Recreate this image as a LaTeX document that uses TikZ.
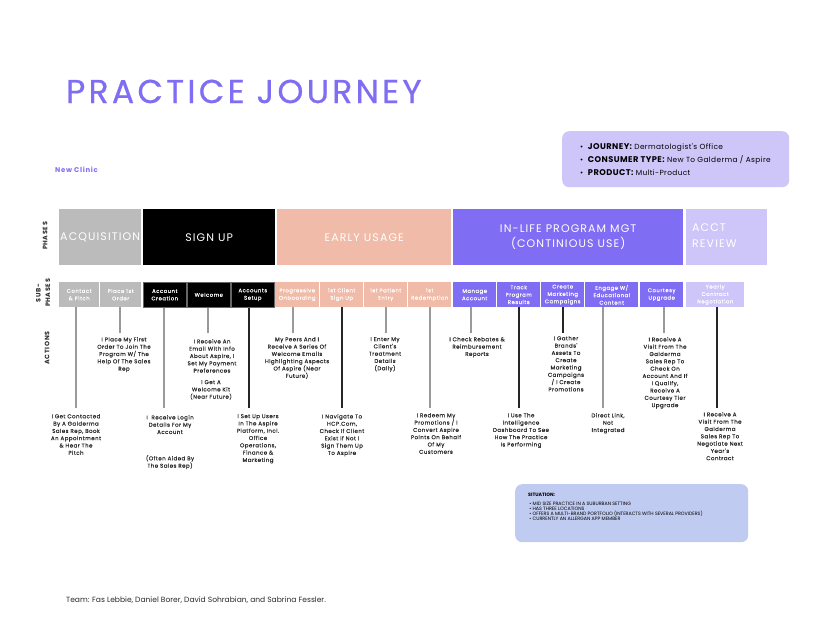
\documentclass[tikz,border=0pt]{standalone}
\usepackage{fontspec}
\setmainfont{Poppins}
\newfontfamily\pspc[LetterSpace=10]{Poppins}
\newfontfamily\pact[LetterSpace=8,FakeBold=0.35]{Poppins}
\newfontfamily\psub[LetterSpace=10,FakeBold=0.25]{Poppins}
\newfontfamily\pinfo[LetterSpace=5]{Poppins}
\newfontfamily\ptitle[LetterSpace=10,FakeBold=0.6]{Poppins}
\definecolor{jpurple}{HTML}{7F6DF3}
\definecolor{jlav}{HTML}{CEC6F9}
\definecolor{jsalmon}{HTML}{F0BBA8}
\definecolor{jgray}{HTML}{BBBBBB}
\definecolor{jsit}{HTML}{BFCBF0}
\definecolor{jline}{HTML}{9A9A9A}
\definecolor{jtext}{HTML}{2A2A2A}
\tikzset{
  phasebox/.style={anchor=north west, inner sep=0, minimum height=56, text=white, align=center,
     font=\pspc\fontsize{11}{15.5}\selectfont},
  subbox/.style={anchor=north west, inner sep=0, minimum height=25, text=white, align=center,
     font=\psub\fontsize{5.3}{7.4}\selectfont},
  act/.style={anchor=north, inner sep=0, align=center, text=jtext, font=\pact\fontsize{5.5}{7.3}\selectfont},
  side/.style={rotate=90, inner sep=0, align=center, text=jtext, font=\pspc\bfseries\fontsize{6.4}{9.5}\selectfont},
  gline/.style={draw=jline, line width=1.1},
  bline/.style={draw=black!85, line width=1.1},
}
\begin{document}
\begin{tikzpicture}[x=1pt,y=-1pt]
\useasboundingbox[fill=white] (0,0) rectangle (825,638);

% title
\node[anchor=base west, inner sep=0, text=jpurple, font=\ptitle\fontsize{33}{36}\selectfont] (title) at (66,103) {PRACTICE JOURNEY};
\node[anchor=base west, inner sep=0, text=jpurple, font=\pspc\bfseries\fontsize{6.9}{8}\selectfont] (clinic) at (55,172) {New Clinic};

% info box
\node[anchor=north west, fill=jlav, rounded corners=7, minimum width=227, minimum height=56, inner sep=0] (info) at (562,131) {};
\node[anchor=west, inner sep=0, align=left, text=black, font=\pinfo\fontsize{7.4}{13}\selectfont] (infotext) at (580,160)
  {\textbullet\ \ {\bfseries\fontsize{8.3}{13}\selectfont JOURNEY:} Dermatologist's Office\\
   \textbullet\ \ {\bfseries\fontsize{8.3}{13}\selectfont CONSUMER TYPE:} New To Galderma / Aspire\\
   \textbullet\ \ {\bfseries\fontsize{8.3}{13}\selectfont PRODUCT:} Multi-Product};

% side labels
\node[side] (lphases) at (45,236) {PHASES};
\node[side] (lsub) at (43,293) {SUB-\\PHASES};
\node[side] (lact) at (47,348) {ACTIONS};

% phases
\node[phasebox, fill=jgray, minimum width=82] (pAcq) at (59,209) {ACQUISITION};
\node[phasebox, fill=black, minimum width=132] (pSign) at (143,209) {SIGN UP};
\node[phasebox, fill=jsalmon, minimum width=174] (pEarly) at (277,209) {EARLY USAGE};
\node[phasebox, fill=jpurple, minimum width=230] (pLife) at (453,209) {IN-LIFE PROGRAM MGT\\(CONTINIOUS USE)};
\node[anchor=north west, inner sep=0, fill=jlav, minimum width=81, minimum height=56] (pAcct) at (686,209) {};
\node[anchor=north west, inner sep=0, align=left, text=white, font=\pspc\fontsize{11}{16}\selectfont] (pAcctT) at (692,224) {ACCT\\REVIEW};

% sub-phases
\node[subbox, fill=jgray, minimum width=40] (sContact) at (59,282) {Contact\\\& Pitch};
\node[subbox, fill=jgray, minimum width=41] (sPlace) at (100,282) {Place 1st\\Order};
\node[subbox, fill=black, draw=black!60, line width=0.6, minimum width=43] (sAccount) at (143,282) {Account\\Creation};
\node[subbox, fill=black, draw=black!60, line width=0.6, minimum width=43] (sWelcome) at (187,282) {Welcome};
\node[subbox, fill=black, draw=black!60, line width=0.6, minimum width=43] (sSetup) at (231,282) {Accounts\\Setup};
\node[subbox, fill=jsalmon, minimum width=44] (sProg) at (275,282) {Progressive\\Onboarding};
\node[subbox, fill=jsalmon, minimum width=43] (sClient) at (320,282) {1st Client\\Sign Up};
\node[subbox, fill=jsalmon, minimum width=43] (sPatient) at (364,282) {1st Patient\\Entry};
\node[subbox, fill=jsalmon, minimum width=43] (sRedeem) at (408,282) {1st\\Redemption};
\node[subbox, fill=jpurple, minimum width=43] (sManage) at (453,282) {Manage\\Account};
\node[subbox, fill=jpurple, minimum width=43] (sTrack) at (497,282) {Track\\Program\\Results};
\node[subbox, fill=jpurple, minimum width=43] (sCreate) at (541,282) {Create\\Marketing\\Campaigns};
\node[subbox, fill=jpurple, minimum width=53] (sEngage) at (585,282) {Engage W/\\Educational\\Content};
\node[subbox, fill=jpurple, minimum width=43] (sCourtesy) at (640,282) {Courtesy\\Upgrade};
\node[subbox, fill=jlav, minimum width=58] (sYearly) at (686,282) {Yearly\\Contract\\Negotiation};

% action texts
\node[act] (aContact) at (76,414) {I Get Contacted\\By A Galderma\\Sales Rep, Book\\An Appointment\\\& Hear The\\Pitch};
\node[act] (aPlace) at (124,337) {I Place My First\\Order To Join The\\Program W/ The\\Help Of The Sales\\Rep};
\node[act] (aAccount) at (170,415) {I\ \ Receive Login\\Details For My\\Account};
\node[act] (aAccount2) at (170,455) {(Often Aided By\\The Sales Rep)};
\node[act] (aWelcome) at (212,339) {I Receive An\\Email With Info\\About Aspire, I\\Set My Payment\\Preferences};
\node[act] (aWelcome2) at (211,380) {I Get A\\Welcome Kit\\(Near Future)};
\node[act] (aSetup) at (258,414) {I Set Up Users\\In The Aspire\\Platform, Incl.\\Office\\Operations,\\Finance \&\\Marketing};
\node[act] (aProg) at (297,337) {My Peers And I\\Receive A Series Of\\Welcome Emails\\Highlighting Aspects\\Of Aspire (Near\\Future)};
\node[act] (aClient) at (342,414) {I Navigate To\\HCP.Com,\\Check If Client\\Exist If Not I\\Sign Them Up\\To Aspire};
\node[act] (aPatient) at (385,337) {I Enter My\\Client's\\Treatment\\Details\\(Daily)};
\node[act] (aRedeem) at (436,413) {I Redeem My\\Promotions / I\\Convert Aspire\\Points On Behalf\\Of My\\Customers};
\node[act] (aManage) at (477,337) {I Check Rebates \&\\Reimbursement\\Reports};
\node[act] (aTrack) at (521,413) {I Use The\\Intelligence\\Dashboard To See\\How The Practice\\Is Performing};
\node[act] (aCreate) at (566,336) {I Gather\\Brands'\\Assets To\\Create\\Marketing\\Campaigns\\/ I Create\\Promotions};
\node[act] (aEngage) at (608,413) {Direct Link,\\Not\\Integrated};
\node[act] (aCourtesy) at (665,337) {I Receive A\\Visit From The\\Galderma\\Sales Rep To\\Check On\\Account And If\\I Qualify,\\Receive A\\Courtesy Tier\\Upgrade};
\node[act] (aYearly) at (720,412) {I Receive A\\Visit From The\\Galderma\\Sales Rep To\\Negotiate Next\\Year's\\Contract};

% connector ends
\coordinate (eContact) at (76,408);
\coordinate (ePlace) at (120,333);
\coordinate (eAccount) at (164,408);
\coordinate (eWelcome) at (208,333);
\coordinate (eSetup) at (249,408);
\coordinate (eProg) at (293,333);
\coordinate (eClient) at (342,408);
\coordinate (ePatient) at (386,333);
\coordinate (eRedeem) at (430,408);
\coordinate (eManage) at (471,333);
\coordinate (eTrack) at (519,408);
\coordinate (eCreate) at (563,333);
\coordinate (eEngage) at (603,408);
\coordinate (eCourtesy) at (664,333);
\coordinate (eYearly) at (717,408);

\draw[gline] (sContact.south -| eContact) -- (eContact);
\draw[gline] (sPlace.south -| ePlace) -- (ePlace);
\draw[gline] (sAccount.south -| eAccount) -- (eAccount);
\draw[gline] (sWelcome.south -| eWelcome) -- (eWelcome);
\draw[bline] (sSetup.south -| eSetup) -- (eSetup);
\draw[gline] (sProg.south -| eProg) -- (eProg);
\draw[bline] (sClient.south -| eClient) -- (eClient);
\draw[gline] (sPatient.south -| ePatient) -- (ePatient);
\draw[gline] (sRedeem.south -| eRedeem) -- (eRedeem);
\draw[gline] (sManage.south -| eManage) -- (eManage);
\draw[bline] (sTrack.south -| eTrack) -- (eTrack);
\draw[bline] (sCreate.south -| eCreate) -- (eCreate);
\draw[gline] (sEngage.south -| eEngage) -- (eEngage);
\draw[gline] (sCourtesy.south -| eCourtesy) -- (eCourtesy);
\draw[bline] (sYearly.south -| eYearly) -- (eYearly);

% situation box
\node[anchor=north west, fill=jsit, rounded corners=7, minimum width=233, minimum height=58, inner sep=0] (sit) at (515,484) {};
\node[anchor=north west, inner sep=0, align=left, text=black, font=\fontsize{4.75}{5.1}\selectfont] (sittext) at (528,493)
  {{\bfseries SITUATION:}\\[4pt]
   \ \textbullet\ MID SIZE PRACTICE IN A SUBURBAN SETTING\\
   \ \textbullet\ HAS THREE LOCATIONS\\
   \ \textbullet\ OFFERS A MULTI-BRAND PORTFOLIO (INTERACTS WITH SEVERAL PROVIDERS)\\
   \ \textbullet\ CURRENTLY AN ALLERGAN APP MEMBER};

% footer
\node[anchor=base west, inner sep=0, text=jtext, font=\fontsize{7.55}{9}\selectfont] (team) at (66,602) {Team: Fas Lebbie, Daniel Borer, David Sohrabian, and Sabrina Fessler.};
\end{tikzpicture}
\end{document}
